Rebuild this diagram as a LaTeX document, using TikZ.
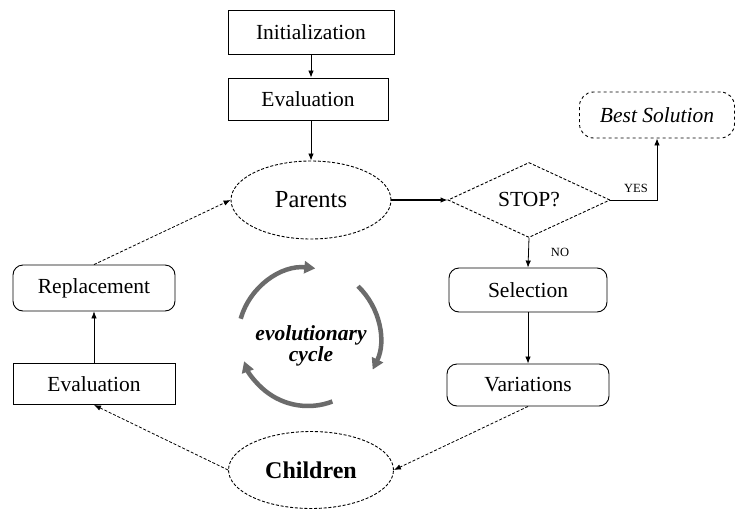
\documentclass[tikz,border=0pt]{standalone}
\usepackage{fontspec}
\setmainfont{Liberation Serif}
\usetikzlibrary{shapes.geometric,arrows.meta}
\begin{document}
\begin{tikzpicture}[x=1pt,y=-1pt,
  txt/.style={font=\fontsize{21.5}{24}\selectfont},
  sqbox/.style={draw, line width=0.9pt, minimum width=162pt, minimum height=44pt, inner sep=0pt, txt},
  rbox/.style={sqbox, rounded corners=10pt},
  dsh/.style={dash pattern=on 3pt off 1.8pt},
  oval/.style={draw, ellipse, dsh, line width=0.9pt, inner sep=0pt},
  flow/.style={-{Latex[length=7pt,width=5.5pt]}, line width=0.8pt},
  dflow/.style={flow, dsh},
  lbl/.style={font=\fontsize{12.5}{14}\selectfont, inner sep=1pt},
  cyc/.style={line width=4.5pt, draw=black!58, -{Triangle[length=11pt,width=12pt]}}
]
\fill[white] (0,0) rectangle (737,512);
\useasboundingbox (0,0) rectangle (737,512);

% main flow
\node[sqbox, minimum width=166pt] (init) at (311,32) {Initialization};
\node[sqbox, minimum width=160pt, minimum height=42pt] (evalA) at (308,99) {Evaluation};
\node[oval, minimum width=160pt, minimum height=78pt, font=\fontsize{24.5}{27}\selectfont] (par) at (311,200) {Parents};
\node[draw, diamond, dsh, line width=0.9pt, aspect=2.16, minimum width=162pt, minimum height=75pt, inner sep=0pt, txt] (stop) at (529,200) {STOP?};
\node[sqbox, dashed, rounded corners=14pt, minimum width=155pt, minimum height=46pt, font=\fontsize{21.5}{24}\selectfont\itshape] (best) at (657,115) {Best Solution};
\node[rbox, minimum width=158pt] (sel) at (528,290) {Selection};
\node[rbox, minimum height=42pt] (var) at (528,385) {Variations};
\node[oval, minimum width=165pt, minimum height=77pt, font=\fontsize{24}{27}\selectfont\bfseries] (chi) at (311,470) {Children};
\node[sqbox, minimum height=41pt] (evalB) at (94,384) {Evaluation};
\node[rbox, minimum height=46pt] (rep) at (94,288) {Replacement};

% cycle in the middle
\node[font=\fontsize{21.5}{21}\selectfont\bfseries\itshape, align=center, inner sep=0pt] (cyctxt) at (311,346) {evolutionary\\cycle};
\coordinate (cc) at (308,338);
\draw[cyc] (cc) ++(196:70) arc[start angle=196, end angle=276, radius=70];
\draw[cyc] (cc) ++(314:72) arc[start angle=314, end angle=386, radius=72];
\draw[cyc] (cc) ++(69:68) arc[start angle=69, end angle=160, radius=68];

% connectors
\draw[flow] (init.south) -- (init.south |- evalA.north);
\draw[flow] (par.north |- evalA.south) -- (par.north);
\draw[flow, line width=1.1pt] (par.east) -- (stop.west);
\draw[flow] (stop.east) -- (best.south |- stop.east) -- (best.south);
\node[lbl] (yes) at (636,188) {YES};
\draw[flow] (stop.south) -- (sel.north);
\node[lbl] (no) at (560,252) {NO};
\draw[flow] (sel) -- (var);
\draw[dflow] (var.south) -- (chi.east);
\draw[dflow] (chi.west) -- (evalB.south);
\draw[flow, line width=0.6pt] (evalB) -- (rep);
\draw[dflow] (rep.north) -- (par.west);
\end{tikzpicture}
\end{document}
